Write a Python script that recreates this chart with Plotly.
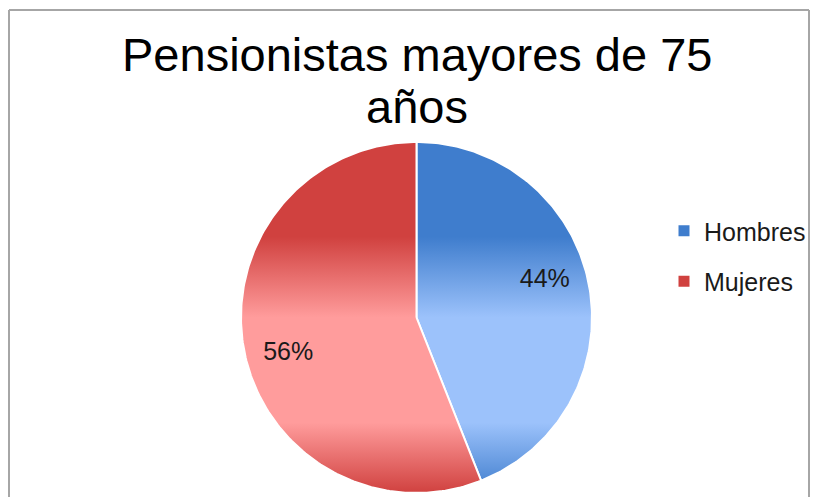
import numpy as np
import plotly.graph_objects as go

# ---- data ----
categories = ["Hombres", "Mujeres"]
values = [44, 56]
title_lines = ["Pensionistas mayores de 75", "años"]

dark_colors = ["#3f7dcd", "#d0413f"]
light_colors = ["#9cc2fb", "#ff9c9c"]

# ---- layout constants (pixels) ----
W, H = 820, 497
CX, CY, R = 416.5, 317.5, 175.5  # pie centre & radius in px
LABEL_R = 0.76
LABEL_ROT = 5.0  # degrees, Excel-like label offset

x0 = -CX / R
x1 = (W - CX) / R
y1 = CY / R
y0 = -(H - CY) / R

FONT = "Liberation Sans, Arial, sans-serif"

fig = go.Figure()

total = sum(values)
start = 90.0
for i, (cat, v) in enumerate(zip(categories, values)):
    sweep = 360.0 * v / total
    ang = np.linspace(start, start - sweep, 200)
    xs = np.concatenate([[0], np.cos(np.radians(ang)), [0]])
    ys = np.concatenate([[0], np.sin(np.radians(ang)), [0]])
    d, l = dark_colors[i], light_colors[i]
    fig.add_trace(go.Scatter(
        x=xs, y=ys, mode="lines", fill="toself",
        line=dict(color="white", width=2),
        fillgradient=dict(
            type="vertical", start=-1, stop=1,
            colorscale=[[0, d], [0.2, l], [0.5, l], [0.73, d], [1, d]],
        ),
        hoverinfo="skip", showlegend=False,
    ))
    mid = np.radians(start - sweep / 2 + LABEL_ROT)
    fig.add_trace(go.Scatter(
        x=[LABEL_R * np.cos(mid)], y=[LABEL_R * np.sin(mid)], mode="text",
        text=[f"{round(100 * v / total)}%"],
        textfont=dict(family=FONT, size=25, color="#1a1a1a"),
        hoverinfo="skip", showlegend=False,
    ))
    start -= sweep

for i, cat in enumerate(categories):
    fig.add_trace(go.Scatter(
        x=[None], y=[None], mode="markers", name=cat,
        marker=dict(symbol="square", size=11, color=dark_colors[i]),
        legendgroup=cat,
    ))

annotations = [
    dict(text=title_lines[0], x=CX / W, y=1 - 54 / H, xref="paper", yref="paper",
         xanchor="center", yanchor="middle", showarrow=False,
         font=dict(family=FONT, size=47, color="black")),
    dict(text=title_lines[1], x=CX / W, y=1 - 106 / H, xref="paper", yref="paper",
         xanchor="center", yanchor="middle", showarrow=False,
         font=dict(family=FONT, size=47, color="black")),
]

shapes = [
    dict(type="line", xref="paper", yref="paper", x0=9 / W, x1=809 / W, y0=1 - 10 / H, y1=1 - 10 / H,
         line=dict(color="#a6a6a6", width=2)),
    dict(type="line", xref="paper", yref="paper", x0=9 / W, x1=9 / W, y0=1 - 10 / H, y1=0,
         line=dict(color="#a6a6a6", width=2)),
    dict(type="line", xref="paper", yref="paper", x0=809 / W, x1=809 / W, y0=1 - 10 / H, y1=0,
         line=dict(color="#a6a6a6", width=2)),
]

fig.update_layout(
    width=W, height=H, margin=dict(l=0, r=0, t=0, b=0),
    paper_bgcolor="white", plot_bgcolor="white",
    xaxis=dict(range=[x0, x1], visible=False, fixedrange=True),
    yaxis=dict(range=[y0, y1], visible=False, fixedrange=True),
    annotations=annotations, shapes=shapes,
    legend=dict(x=664 / W, y=1 - 208 / H, xanchor="left", yanchor="top",
                font=dict(family=FONT, size=25, color="#1a1a1a"),
                tracegroupgap=15, bgcolor="rgba(0,0,0,0)"),
    showlegend=True,
)

fig.write_html("out.html")
